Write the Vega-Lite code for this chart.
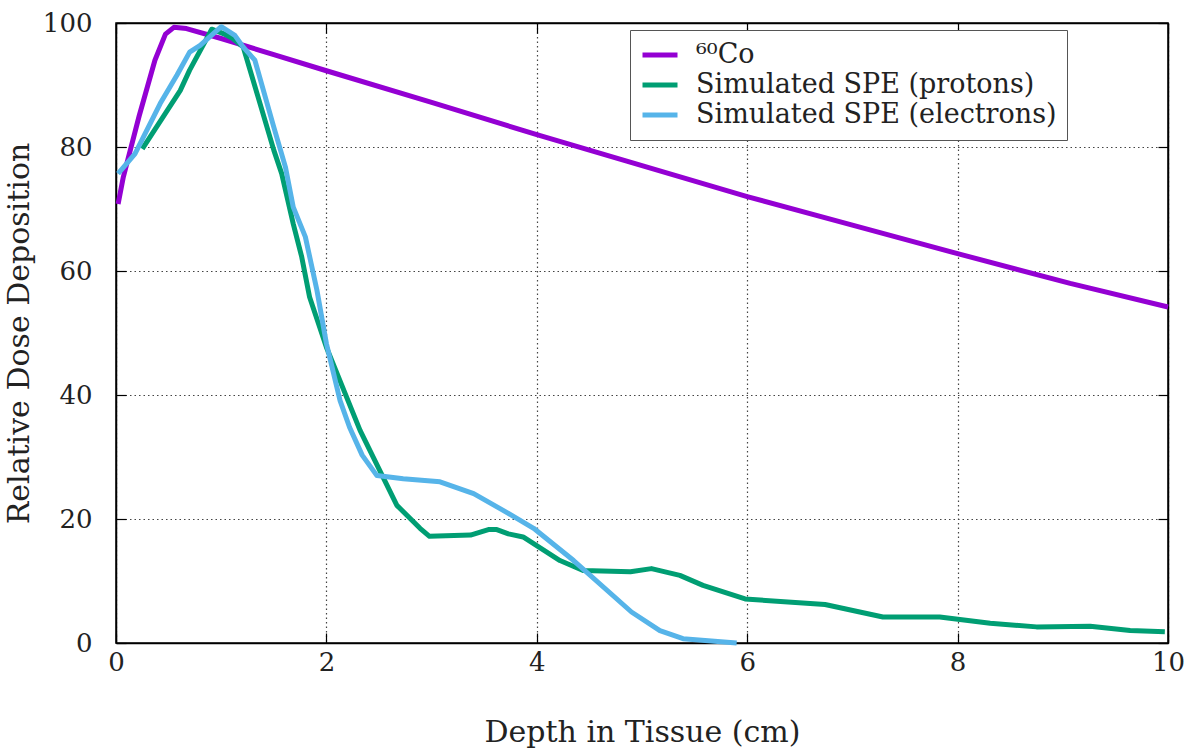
{
  "$schema": "https://vega.github.io/schema/vega-lite/v6.json",
  "autosize": "none",
  "width": 1052,
  "height": 620,
  "padding": {"left": 116, "top": 23, "right": 27, "bottom": 112},
  "background": "white",
  "config": {
    "font": "DejaVu Serif",
    "view": {"stroke": "#000", "strokeWidth": 1.5},
    "axis": {
      "labelFont": "DejaVu Serif",
      "titleFont": "DejaVu Serif",
      "labelFontSize": 26,
      "titleFontSize": 30,
      "titleFontWeight": "normal",
      "labelColor": "#222",
      "titleColor": "#222",
      "labelFlush": false,
      "labelOverlap": false,
      "domainColor": "#000",
      "domainWidth": 1.5,
      "tickColor": "#000",
      "tickWidth": 1.2,
      "gridColor": "#444",
      "gridDash": [1.5, 3],
      "gridWidth": 1.2
    },
    "legend": {
      "labelFont": "DejaVu Serif",
      "labelFontSize": 27,
      "labelColor": "#222",
      "labelLimit": 0
    }
  },
  "data": {
    "values": [
      {"series": "⁶⁰Co", "depth": 0.02, "dose": 70.8},
      {"series": "⁶⁰Co", "depth": 0.07, "dose": 75.2},
      {"series": "⁶⁰Co", "depth": 0.22, "dose": 85.0},
      {"series": "⁶⁰Co", "depth": 0.37, "dose": 94.0},
      {"series": "⁶⁰Co", "depth": 0.47, "dose": 98.2},
      {"series": "⁶⁰Co", "depth": 0.55, "dose": 99.3},
      {"series": "⁶⁰Co", "depth": 0.67, "dose": 99.1},
      {"series": "⁶⁰Co", "depth": 1.0, "dose": 97.5},
      {"series": "⁶⁰Co", "depth": 1.5, "dose": 94.9},
      {"series": "⁶⁰Co", "depth": 2.0, "dose": 92.3},
      {"series": "⁶⁰Co", "depth": 3.0, "dose": 87.2},
      {"series": "⁶⁰Co", "depth": 4.0, "dose": 82.0},
      {"series": "⁶⁰Co", "depth": 5.0, "dose": 77.0},
      {"series": "⁶⁰Co", "depth": 6.0, "dose": 72.0},
      {"series": "⁶⁰Co", "depth": 7.0, "dose": 67.4},
      {"series": "⁶⁰Co", "depth": 8.0, "dose": 62.8},
      {"series": "⁶⁰Co", "depth": 9.07, "dose": 58.0},
      {"series": "⁶⁰Co", "depth": 10.0, "dose": 54.2},
      {"series": "Simulated SPE (protons)", "depth": 0.25, "dose": 79.7},
      {"series": "Simulated SPE (protons)", "depth": 0.61, "dose": 89.1},
      {"series": "Simulated SPE (protons)", "depth": 0.70, "dose": 92.4},
      {"series": "Simulated SPE (protons)", "depth": 0.91, "dose": 99.0},
      {"series": "Simulated SPE (protons)", "depth": 1.02, "dose": 98.3},
      {"series": "Simulated SPE (protons)", "depth": 1.11, "dose": 97.5},
      {"series": "Simulated SPE (protons)", "depth": 1.21, "dose": 96.1},
      {"series": "Simulated SPE (protons)", "depth": 1.50, "dose": 79.5},
      {"series": "Simulated SPE (protons)", "depth": 1.575, "dose": 75.7},
      {"series": "Simulated SPE (protons)", "depth": 1.685, "dose": 67.6},
      {"series": "Simulated SPE (protons)", "depth": 1.765, "dose": 62.3},
      {"series": "Simulated SPE (protons)", "depth": 1.84, "dose": 55.8},
      {"series": "Simulated SPE (protons)", "depth": 2.0, "dose": 47.7},
      {"series": "Simulated SPE (protons)", "depth": 2.32, "dose": 34.3},
      {"series": "Simulated SPE (protons)", "depth": 2.67, "dose": 22.2},
      {"series": "Simulated SPE (protons)", "depth": 2.89, "dose": 18.5},
      {"series": "Simulated SPE (protons)", "depth": 2.98, "dose": 17.2},
      {"series": "Simulated SPE (protons)", "depth": 3.37, "dose": 17.4},
      {"series": "Simulated SPE (protons)", "depth": 3.54, "dose": 18.3},
      {"series": "Simulated SPE (protons)", "depth": 3.62, "dose": 18.3},
      {"series": "Simulated SPE (protons)", "depth": 3.73, "dose": 17.6},
      {"series": "Simulated SPE (protons)", "depth": 3.87, "dose": 17.1},
      {"series": "Simulated SPE (protons)", "depth": 4.22, "dose": 13.3},
      {"series": "Simulated SPE (protons)", "depth": 4.44, "dose": 11.7},
      {"series": "Simulated SPE (protons)", "depth": 4.89, "dose": 11.5},
      {"series": "Simulated SPE (protons)", "depth": 5.09, "dose": 12.0},
      {"series": "Simulated SPE (protons)", "depth": 5.36, "dose": 10.9},
      {"series": "Simulated SPE (protons)", "depth": 5.58, "dose": 9.3},
      {"series": "Simulated SPE (protons)", "depth": 5.98, "dose": 7.1},
      {"series": "Simulated SPE (protons)", "depth": 6.74, "dose": 6.2},
      {"series": "Simulated SPE (protons)", "depth": 7.29, "dose": 4.2},
      {"series": "Simulated SPE (protons)", "depth": 7.83, "dose": 4.2},
      {"series": "Simulated SPE (protons)", "depth": 8.31, "dose": 3.2},
      {"series": "Simulated SPE (protons)", "depth": 8.75, "dose": 2.6},
      {"series": "Simulated SPE (protons)", "depth": 9.26, "dose": 2.7},
      {"series": "Simulated SPE (protons)", "depth": 9.64, "dose": 2.0},
      {"series": "Simulated SPE (protons)", "depth": 9.97, "dose": 1.8},
      {"series": "Simulated SPE (electrons)", "depth": 0.02, "dose": 75.7},
      {"series": "Simulated SPE (electrons)", "depth": 0.18, "dose": 78.9},
      {"series": "Simulated SPE (electrons)", "depth": 0.42, "dose": 87.0},
      {"series": "Simulated SPE (electrons)", "depth": 0.58, "dose": 91.6},
      {"series": "Simulated SPE (electrons)", "depth": 0.70, "dose": 95.3},
      {"series": "Simulated SPE (electrons)", "depth": 0.80, "dose": 96.4},
      {"series": "Simulated SPE (electrons)", "depth": 1.00, "dose": 99.4},
      {"series": "Simulated SPE (electrons)", "depth": 1.13, "dose": 98.0},
      {"series": "Simulated SPE (electrons)", "depth": 1.21, "dose": 96.1},
      {"series": "Simulated SPE (electrons)", "depth": 1.32, "dose": 94.0},
      {"series": "Simulated SPE (electrons)", "depth": 1.50, "dose": 83.2},
      {"series": "Simulated SPE (electrons)", "depth": 1.61, "dose": 76.8},
      {"series": "Simulated SPE (electrons)", "depth": 1.685, "dose": 70.3},
      {"series": "Simulated SPE (electrons)", "depth": 1.80, "dose": 65.5},
      {"series": "Simulated SPE (electrons)", "depth": 1.91, "dose": 56.9},
      {"series": "Simulated SPE (electrons)", "depth": 2.0, "dose": 48.3},
      {"series": "Simulated SPE (electrons)", "depth": 2.13, "dose": 39.1},
      {"series": "Simulated SPE (electrons)", "depth": 2.22, "dose": 34.8},
      {"series": "Simulated SPE (electrons)", "depth": 2.34, "dose": 30.3},
      {"series": "Simulated SPE (electrons)", "depth": 2.48, "dose": 27.0},
      {"series": "Simulated SPE (electrons)", "depth": 2.73, "dose": 26.5},
      {"series": "Simulated SPE (electrons)", "depth": 3.08, "dose": 26.0},
      {"series": "Simulated SPE (electrons)", "depth": 3.40, "dose": 24.1},
      {"series": "Simulated SPE (electrons)", "depth": 3.68, "dose": 21.4},
      {"series": "Simulated SPE (electrons)", "depth": 3.97, "dose": 18.5},
      {"series": "Simulated SPE (electrons)", "depth": 4.35, "dose": 13.3},
      {"series": "Simulated SPE (electrons)", "depth": 4.90, "dose": 5.0},
      {"series": "Simulated SPE (electrons)", "depth": 5.17, "dose": 2.0},
      {"series": "Simulated SPE (electrons)", "depth": 5.39, "dose": 0.7},
      {"series": "Simulated SPE (electrons)", "depth": 5.90, "dose": 0.0}
    ]
  },
  "resolve": {"axis": {"x": "independent", "y": "independent"}},
  "layer": [
    {
      "mark": {"type": "line", "strokeWidth": 5, "strokeJoin": "round", "strokeCap": "butt"},
      "encoding": {
        "x": {
          "field": "depth", "type": "quantitative",
          "scale": {"domain": [0, 10], "nice": false, "zero": false},
          "axis": {
            "orient": "bottom",
            "title": "Depth in Tissue (cm)",
            "values": [0, 2, 4, 6, 8, 10],
            "tickSize": -10,
            "labelPadding": 16,
            "titlePadding": 42,
            "grid": true
          }
        },
        "y": {
          "field": "dose", "type": "quantitative",
          "scale": {"domain": [0, 100], "nice": false},
          "axis": {
            "orient": "left",
            "title": "Relative Dose Deposition",
            "values": [0, 20, 40, 60, 80, 100],
            "tickSize": -10,
            "labelPadding": 34,
            "titlePadding": 8,
            "grid": true
          }
        },
        "color": {
          "field": "series", "type": "nominal",
          "scale": {
            "domain": ["⁶⁰Co", "Simulated SPE (protons)", "Simulated SPE (electrons)"],
            "range": ["#9400d3", "#009e73", "#56b4e9"]
          },
          "legend": {
            "title": null,
            "orient": "none",
            "legendX": 514,
            "legendY": 7,
            "symbolType": "stroke",
            "symbolSize": 1225,
            "symbolStrokeWidth": 5,
            "labelOffset": 16,
            "clipHeight": 30,
            "rowPadding": 0,
            "padding": 10,
            "strokeColor": "#555",
            "fillColor": "white"
          }
        }
      }
    },
    {
      "mark": {"type": "line", "strokeOpacity": 0},
      "encoding": {
        "x": {
          "field": "depth", "type": "quantitative",
          "axis": {"orient": "top", "title": null, "labels": false, "grid": false, "values": [0, 2, 4, 6, 8, 10], "tickSize": -10}
        },
        "y": {
          "field": "dose", "type": "quantitative",
          "axis": {"orient": "right", "title": null, "labels": false, "grid": false, "values": [0, 20, 40, 60, 80, 100], "tickSize": -10}
        },
        "detail": {"field": "series"}
      }
    }
  ]
}
